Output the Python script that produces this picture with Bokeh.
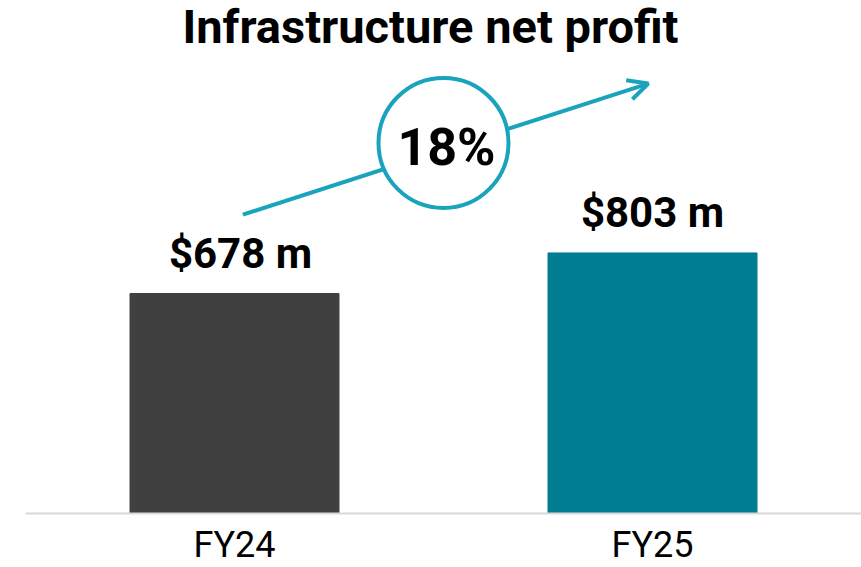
from bokeh.plotting import figure
from bokeh.models import Range1d, FixedTicker, Label, Arrow, OpenHead, ColumnDataSource
from bokeh.core.properties import value
from bokeh.embed import file_html
from bokeh.resources import INLINE

# ---- data ----
categories = ["FY24", "FY25"]
profits = [678, 803]
bar_labels = ["$678 m", "$803 m"]
bar_colors = ["#404040", "#007D91"]
title_text = "Infrastructure net profit"

growth_pct = round((profits[1] - profits[0]) / profits[0] * 100)
growth_text = f"{growth_pct}%"

xs = list(range(len(categories)))
teal = "#1AA3BD"
FONT = "Roboto"

p = figure(frame_width=836, frame_height=513, output_backend="svg",
           toolbar_location=None, x_range=Range1d(-0.5, 1.5), y_range=Range1d(0, 1581),
           min_border_left=25, min_border_right=0, min_border_top=0, min_border_bottom=0)
p.outline_line_color = None
p.grid.visible = False
p.yaxis.visible = False
p.background_fill_color = "white"
p.border_fill_color = "white"

p.vbar(x=xs, top=profits, width=0.5, color=bar_colors)

src = ColumnDataSource(dict(x=xs, y=profits, t=bar_labels, dx=[6, 0]))
p.text(x="x", y="y", text="t", x_offset="dx", source=src, text_align="center",
       text_baseline="alphabetic", y_offset=-40, text_font=value(FONT),
       text_font_style="bold", text_font_size="42px", text_color="black")

ax = p.xaxis[0]
ax.ticker = FixedTicker(ticks=xs)
ax.major_label_overrides = {x: c for x, c in zip(xs, categories)}
ax.major_tick_line_color = None
ax.minor_tick_line_color = None
ax.axis_line_color = "#D9D9D9"
ax.axis_line_width = 2
ax.major_label_text_font = FONT
ax.major_label_text_font_size = "36px"
ax.major_label_text_color = "black"
ax.major_label_standoff = 4

# growth arrow (underlay so the circle covers it)
arrow = Arrow(x_start=0.02, y_start=profits[0] + 243, x_end=0.99, y_end=profits[1] + 522,
              line_color=teal, line_width=4,
              end=OpenHead(size=20, line_color=teal, line_width=4), level="underlay")
p.add_layout(arrow)

p.scatter(x=[0.5], y=[1142], size=130, marker="circle", fill_color="white",
          line_color=teal, line_width=4)

p.add_layout(Label(x=0.5, y=1128, x_offset=3, text=growth_text, text_align="center",
                   text_baseline="alphabetic", text_font=FONT, text_font_style="bold",
                   text_font_size="52px", text_color="black"))

p.add_layout(Label(x=0.5, y=1502, x_offset=-13, text=title_text, text_align="center",
                   text_baseline="alphabetic", text_font=FONT, text_font_style="bold",
                   text_font_size="47px", text_color="black"))

open("out.html", "w").write(file_html(p, INLINE))
